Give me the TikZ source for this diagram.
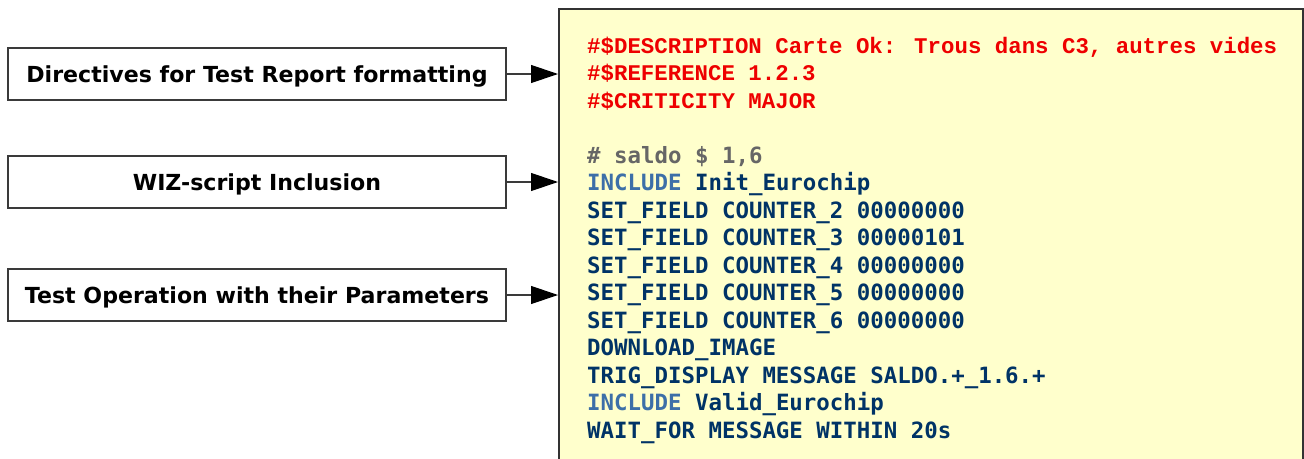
\documentclass[tikz,border=0pt]{standalone}
\usepackage{fontspec}
\usepackage{xcolor}
\usepackage{tikz}
\usetikzlibrary{arrows.meta,positioning,calc}
\newfontfamily\labelfont{DejaVu Sans}
\newfontfamily\codefont{DejaVu Sans Mono}
\newfontfamily\metafont{Liberation Mono}
\definecolor{panelyellow}{HTML}{FFFFCC}
\definecolor{panelborder}{HTML}{333333}
\definecolor{boxgray}{HTML}{3A3A3A}
\definecolor{metared}{HTML}{EE0000}
\definecolor{commentgray}{HTML}{666666}
\definecolor{keywordblue}{HTML}{3D6FA8}
\definecolor{codeblue}{HTML}{003366}

\tikzset{
    labelbox/.style={draw=boxgray, line width=1.2pt, fill=white, minimum width=498pt,
        minimum height=52pt, inner sep=0pt, text height=16pt, text depth=0pt,
        font=\labelfont\bfseries\fontsize{22.1}{26}\selectfont},
    codeline/.style={anchor=base west, inner sep=0pt, text=codeblue,
        font=\codefont\bfseries\fontsize{22.4}{27.5}\selectfont},
    metaline/.style={codeline, text=metared, font=\metafont\bfseries\fontsize{22.4}{27.5}\selectfont},
    pointer/.style={draw=boxgray, line width=1.2pt, -{Triangle[length=27pt,width=18pt,color=black]}}
}

\begin{document}
\begin{tikzpicture}[x=1pt,y=-1pt]
    \useasboundingbox (0,0) rectangle (1304,458);
    \clip (0,0) rectangle (1304,458);

    % Script panel
    \node[draw=panelborder, line width=1.6pt, fill=panelyellow, anchor=north west,
        minimum width=744pt, minimum height=480pt, inner sep=0pt] (panel) at (558,8) {};

    % Report directives
    \node[metaline] (desc) at (587,53) {\#\$DESCRIPTION Carte Ok: Trous dans C3, autres vides};
    \node[metaline] (ref) at (587,80.5) {\#\$REFERENCE 1.2.3};
    \node[metaline] (crit) at (587,108) {\#\$CRITICITY MAJOR};

    % Script body
    \node[codeline, text=commentgray] (comment) at (587,163) {\# saldo \$ 1,6};
    \node[codeline] (incinit) at (587,190.5) {\textcolor{keywordblue}{INCLUDE} Init\_Eurochip};
    \node[codeline] (set2) at (587,218) {SET\_FIELD COUNTER\_2 00000000};
    \node[codeline] (set3) at (587,245.5) {SET\_FIELD COUNTER\_3 00000101};
    \node[codeline] (set4) at (587,273) {SET\_FIELD COUNTER\_4 00000000};
    \node[codeline] (set5) at (587,300.5) {SET\_FIELD COUNTER\_5 00000000};
    \node[codeline] (set6) at (587,328) {SET\_FIELD COUNTER\_6 00000000};
    \node[codeline] (download) at (587,355.5) {DOWNLOAD\_IMAGE};
    \node[codeline] (trig) at (587,383) {TRIG\_DISPLAY MESSAGE SALDO.+\_1.6.+};
    \node[codeline] (incvalid) at (587,410.5) {\textcolor{keywordblue}{INCLUDE} Valid\_Eurochip};
    \node[codeline] (wait) at (587,438) {WAIT\_FOR MESSAGE WITHIN 20s};

    % Left-hand captions
    \node[labelbox] (directives) at (257,74) {Directives for Test Report formatting};
    \node[labelbox] (inclusion) at (257,182) {WIZ-script Inclusion};
    \node[labelbox] (operations) at (257,295) {Test Operation with their Parameters};

    \draw[pointer] (directives.east) -- (directives.east -| panel.west);
    \draw[pointer] (inclusion.east) -- (inclusion.east -| panel.west);
    \draw[pointer] (operations.east) -- (operations.east -| panel.west);
\end{tikzpicture}
\end{document}
